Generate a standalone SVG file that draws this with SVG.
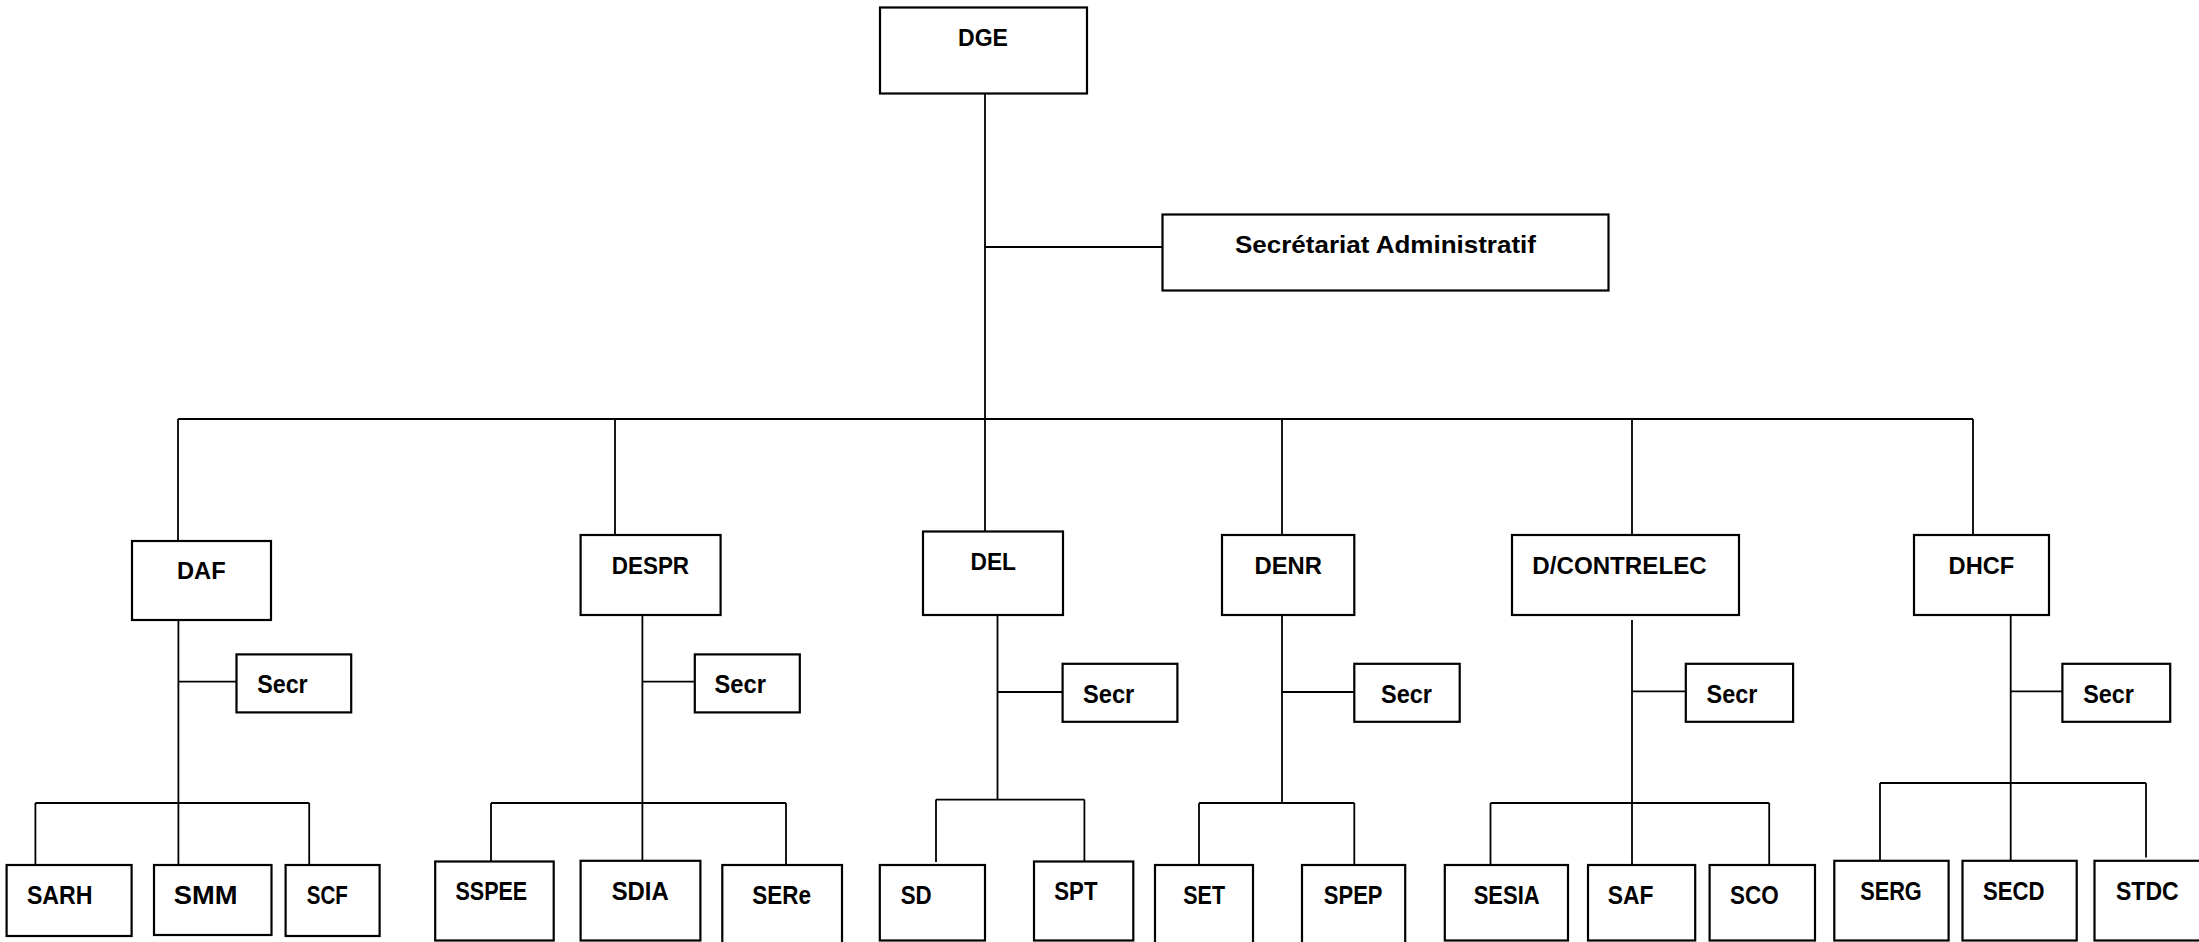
<svg xmlns="http://www.w3.org/2000/svg" width="2199" height="942" viewBox="0 0 2199 942">
<style>
rect{fill:#fff;stroke:#000;stroke-width:2.2}
.c path{fill:none;stroke:#000;stroke-width:1.8}
text{font-family:"Liberation Sans",Arial,sans-serif;font-weight:bold;font-size:24px;fill:#000}
.s text{font-size:25.5px}
</style>
<rect x="0" y="0" width="2199" height="942" style="stroke:none"/>
<g class="c" id="connectors">
<path d="M985 93V535M985 247H1162.5"/>
<path d="M178 419H1973M178 419V541M615 419V548M1282 419V535M1632 419V535M1973 419V535"/>
<path d="M178.4 620V865M178.4 681.7H236.5M35.4 803H309.2M35.4 803V865M309.2 803V865"/>
<path d="M642.4 615V861M642.4 681.7H694.8M491 803H786M491 803V861.5M786 803V865"/>
<path d="M997.5 615V799.6M997.5 692H1062.6M936 799.6H1084.4M936 799.6V862M1084.4 799.6V861.5"/>
<path d="M1282 615V803M1282 692H1354.3M1199 803H1354.3M1199 803V865M1354.3 803V865"/>
<path d="M1632 620V865M1632 691.4H1685.8M1490.5 803H1769.2M1490.5 803V865M1769.2 803V865"/>
<path d="M2010.7 615V861M2010.7 691.4H2062.4M1880 783H2146M1880 783V861M2146 783V857.5"/>
</g>
<g id="DGE"><rect x="880" y="7.5" width="207" height="86"/><text x="958" y="46" textLength="50" lengthAdjust="spacingAndGlyphs">DGE</text></g>
<g id="SecAdmin"><rect x="1162.5" y="214.5" width="446" height="76"/><text x="1235" y="253" textLength="301" lengthAdjust="spacingAndGlyphs">Secrétariat Administratif</text></g>
<g id="DAF"><rect x="132" y="541" width="139" height="79"/><text x="177" y="579" textLength="48.6" lengthAdjust="spacingAndGlyphs">DAF</text></g>
<g id="DESPR"><rect x="580.6" y="535" width="140" height="80"/><text x="611.7" y="573.5" textLength="77.4" lengthAdjust="spacingAndGlyphs">DESPR</text></g>
<g id="DEL"><rect x="923" y="531.5" width="140" height="83.5"/><text x="970.5" y="569.5" textLength="45.5" lengthAdjust="spacingAndGlyphs">DEL</text></g>
<g id="DENR"><rect x="1222" y="535" width="132.3" height="80"/><text x="1254.5" y="573.5" textLength="67.4" lengthAdjust="spacingAndGlyphs">DENR</text></g>
<g id="DCONTRELEC"><rect x="1512" y="535" width="227" height="80"/><text x="1532.3" y="573.5" textLength="174.4" lengthAdjust="spacingAndGlyphs">D/CONTRELEC</text></g>
<g id="DHCF"><rect x="1914" y="535" width="135" height="80"/><text x="1948.6" y="573.5" textLength="65.6" lengthAdjust="spacingAndGlyphs">DHCF</text></g>
<g class="s">
<g id="SecrDAF"><rect x="236.5" y="654.4" width="114.7" height="58"/><text x="257.2" y="693" textLength="50.5" lengthAdjust="spacingAndGlyphs">Secr</text></g>
<g id="SecrDESPR"><rect x="694.8" y="654.4" width="105" height="58"/><text x="714.5" y="693" textLength="51.4" lengthAdjust="spacingAndGlyphs">Secr</text></g>
<g id="SecrDEL"><rect x="1062.6" y="663.8" width="114.8" height="58"/><text x="1083" y="702.5" textLength="51.3" lengthAdjust="spacingAndGlyphs">Secr</text></g>
<g id="SecrDENR"><rect x="1354.3" y="663.8" width="105.4" height="58"/><text x="1381" y="702.5" textLength="51" lengthAdjust="spacingAndGlyphs">Secr</text></g>
<g id="SecrDCON"><rect x="1685.8" y="663.8" width="107.3" height="58"/><text x="1706.6" y="702.5" textLength="50.7" lengthAdjust="spacingAndGlyphs">Secr</text></g>
<g id="SecrDHCF"><rect x="2062.4" y="663.8" width="107.8" height="58"/><text x="2083.2" y="702.5" textLength="50.7" lengthAdjust="spacingAndGlyphs">Secr</text></g>
<g id="SARH"><rect x="6.6" y="865" width="125" height="71"/><text x="26.9" y="903.7" textLength="65.6" lengthAdjust="spacingAndGlyphs">SARH</text></g>
<g id="SMM"><rect x="154" y="865" width="117.5" height="70"/><text x="173.7" y="903.7" textLength="63.7" lengthAdjust="spacingAndGlyphs">SMM</text></g>
<g id="SCF"><rect x="285.6" y="865" width="94" height="71"/><text x="306.8" y="903.7" textLength="41" lengthAdjust="spacingAndGlyphs">SCF</text></g>
<g id="SSPEE"><rect x="435.2" y="861.5" width="118.5" height="79"/><text x="455.5" y="899.5" textLength="71.7" lengthAdjust="spacingAndGlyphs">SSPEE</text></g>
<g id="SDIA"><rect x="580.6" y="860.8" width="119.8" height="79.7"/><text x="611.7" y="899.5" textLength="57" lengthAdjust="spacingAndGlyphs">SDIA</text></g>
<g id="SERe"><rect x="722.3" y="865" width="119.7" height="90"/><text x="752.3" y="903.7" textLength="58.7" lengthAdjust="spacingAndGlyphs">SERe</text></g>
<g id="SD"><rect x="879.8" y="865" width="105.2" height="75.5"/><text x="900.7" y="903.7" textLength="31" lengthAdjust="spacingAndGlyphs">SD</text></g>
<g id="SPT"><rect x="1034" y="861.5" width="99.3" height="79"/><text x="1054.3" y="899.5" textLength="43.2" lengthAdjust="spacingAndGlyphs">SPT</text></g>
<g id="SET"><rect x="1155" y="865" width="98" height="90"/><text x="1183.3" y="903.7" textLength="41.7" lengthAdjust="spacingAndGlyphs">SET</text></g>
<g id="SPEP"><rect x="1302" y="865" width="103.2" height="90"/><text x="1323.8" y="903.7" textLength="58.7" lengthAdjust="spacingAndGlyphs">SPEP</text></g>
<g id="SESIA"><rect x="1444.8" y="865" width="123.2" height="75.5"/><text x="1473.7" y="903.7" textLength="66" lengthAdjust="spacingAndGlyphs">SESIA</text></g>
<g id="SAF"><rect x="1588" y="865" width="107.2" height="75.5"/><text x="1607.8" y="903.7" textLength="45.7" lengthAdjust="spacingAndGlyphs">SAF</text></g>
<g id="SCO"><rect x="1709.6" y="865" width="105.4" height="75.5"/><text x="1730" y="903.7" textLength="48.7" lengthAdjust="spacingAndGlyphs">SCO</text></g>
<g id="SERG"><rect x="1834.3" y="860.8" width="114.3" height="79.7"/><text x="1860.2" y="899.5" textLength="61.6" lengthAdjust="spacingAndGlyphs">SERG</text></g>
<g id="SECD"><rect x="1962.5" y="860.8" width="114.2" height="79.7"/><text x="1982.9" y="899.5" textLength="61.6" lengthAdjust="spacingAndGlyphs">SECD</text></g>
<g id="STDC"><rect x="2094.5" y="860.8" width="120" height="79.7"/><text x="2116" y="899.5" textLength="62.6" lengthAdjust="spacingAndGlyphs">STDC</text></g>
</g>
</svg>
